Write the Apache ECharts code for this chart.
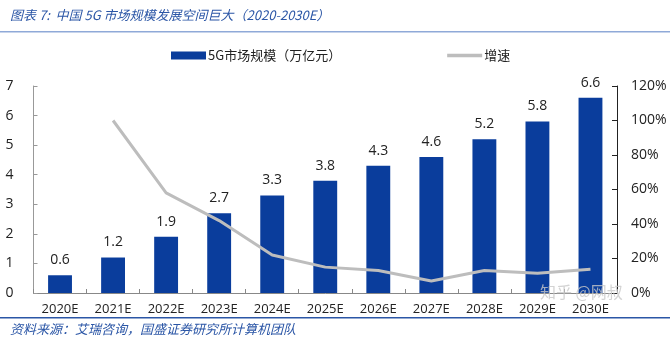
<!DOCTYPE html>
<html><head><meta charset="utf-8">
<script src="https://cdn.jsdelivr.net/npm/echarts@6/dist/echarts.min.js"></script>
<style>html,body{margin:0;padding:0;background:#fff}#c{width:670px;height:346px}</style>
</head><body><div id="c"></div>
<script>
const categories = ['2020E','2021E','2022E','2023E','2024E','2025E','2026E','2027E','2028E','2029E','2030E'];
const marketSize = [0.6,1.2,1.9,2.7,3.3,3.8,4.3,4.6,5.2,5.8,6.6];
const growthRate = [null,100,58,42,22,15,13,7,13,11.5,13.8];
const leftTicks = [0,1,2,3,4,5,6,7];
const rightTicks = [0,20,40,60,80,100,120];

const chart = echarts.init(document.getElementById('c'));
const font = '"Open Sans","DejaVu Sans",sans-serif';
chart.setOption({
  animation:false,
  grid:{left:33.5,right:53,top:86,bottom:53,containLabel:false},
  legend:{
    top:44,left:166,itemGap:106,itemWidth:35,itemHeight:8,
    textStyle:{fontFamily:'"Noto Sans CJK SC",sans-serif',fontSize:13,color:'#222',padding:[0,0,0,-3]},
    data:[{name:'5G市场规模（万亿元）',icon:'rect'},{name:'增速',icon:'path://M0,0H10V1H0Z',itemStyle:{color:'#bdbdbd'}}]
  },
  xAxis:{
    type:'category',data:categories,
    axisLine:{lineStyle:{color:'#888',width:1}},
    axisTick:{show:true,inside:true,length:4,lineStyle:{color:'#888'}},
    axisLabel:{color:'#222',fontSize:13,fontFamily:font,margin:10}
  },
  yAxis:[{
    type:'value',min:0,max:7,interval:1,
    axisLine:{show:true,lineStyle:{color:'#999'}},
    axisTick:{show:true,inside:true,length:4,lineStyle:{color:'#999'}},
    splitLine:{show:false},
    axisLabel:{color:'#222',fontSize:14,fontFamily:font,margin:20,formatter:v=>leftTicks.includes(v)?String(v):''}
  },{
    type:'value',min:0,max:120,interval:20,position:'right',
    axisLine:{show:true,lineStyle:{color:'#222'}},
    axisTick:{show:true,inside:true,length:5,lineStyle:{color:'#222'}},
    splitLine:{show:false},
    axisLabel:{color:'#222',fontSize:14,fontFamily:font,margin:14,formatter:v=>rightTicks.includes(v)?v+'%':''}
  }],
  series:[{
    name:'5G市场规模（万亿元）',type:'bar',data:marketSize,barWidth:'45%',
    itemStyle:{color:'#0a3d9c'},
    label:{show:true,position:'top',distance:8,color:'#222',fontSize:14,fontFamily:font,formatter:p=>p.value.toFixed(1)}
  },{
    name:'增速',type:'line',yAxisIndex:1,data:growthRate,
    symbol:'none',lineStyle:{color:'#bdbdbd',width:3},itemStyle:{color:'#bdbdbd'}
  }],
  graphic:[
    {type:'text',left:10,top:9,style:{text:'图表 7:  中国 5G 市场规模发展空间巨大（2020-2030E）',fill:'#2b56a6',font:'italic 13px "Noto Sans CJK SC",sans-serif'}},
    {type:'rect',shape:{x:0,y:31,width:670,height:1.5},style:{fill:'#8fa9d8'}},
    {type:'rect',shape:{x:0,y:317,width:670,height:1.5},style:{fill:'#2b56a6'}},
    {type:'text',left:10,top:323,style:{text:'资料来源：艾瑞咨询，国盛证券研究所计算机团队',fill:'#2b56a6',font:'italic 13px "Noto Sans CJK SC",sans-serif'}},
    {type:'text',left:540,top:284,z:100,style:{text:'知乎 @网叔',fill:'rgba(200,200,200,0.8)',font:'16px "Noto Sans CJK SC",sans-serif'}}
  ]
});
</script></body></html>
